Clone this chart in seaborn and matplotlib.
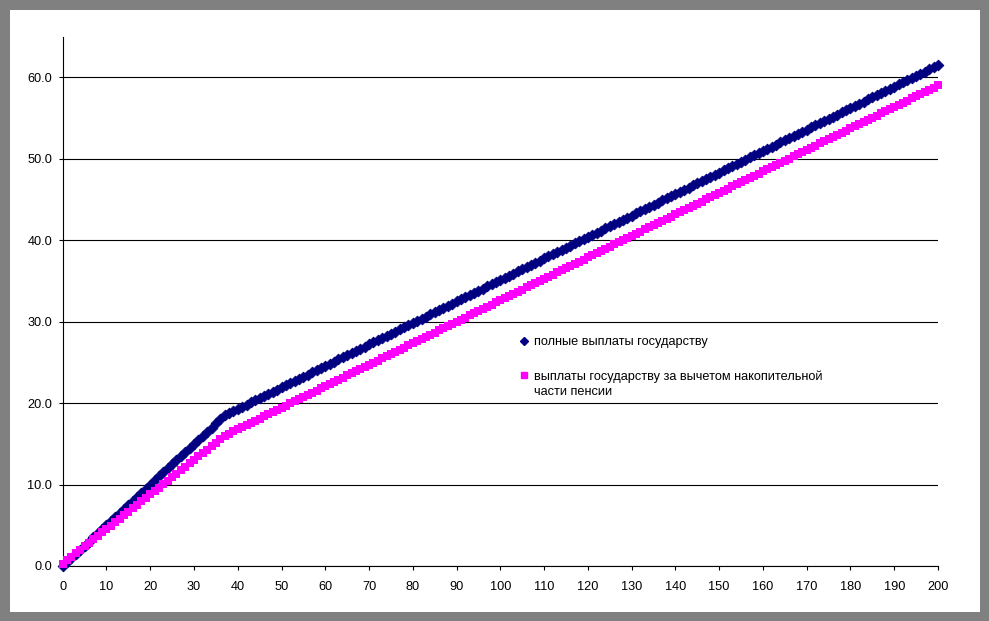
import numpy as np
import pandas as pd
import matplotlib
matplotlib.use('Agg')
import matplotlib.pyplot as plt
from matplotlib.patches import Rectangle
from matplotlib.lines import Line2D
import seaborn as sns

sns.set_style('white')
plt.rcParams['font.family'] = ['Liberation Sans', 'DejaVu Sans']
plt.rcParams['text.color'] = 'black'
plt.rcParams['xtick.color'] = 'black'
plt.rcParams['ytick.color'] = 'black'

# x categories 0..200
periods = list(range(0, 201))

full_payments = [
    0.00, 0.50, 1.00, 1.50, 2.00, 2.50, 3.00, 3.50, 4.00, 4.50,
    5.00, 5.50, 6.00, 6.50, 7.00, 7.50, 8.00, 8.50, 9.00, 9.50,
    10.00, 10.50, 11.00, 11.50, 12.00, 12.50, 13.00, 13.50, 14.00, 14.50,
    15.00, 15.50, 16.00, 16.50, 17.00, 17.50, 18.00, 18.50, 18.76, 19.03,
    19.29, 19.56, 19.82, 20.08, 20.35, 20.61, 20.87, 21.14, 21.40, 21.67,
    21.93, 22.19, 22.46, 22.72, 22.98, 23.25, 23.51, 23.78, 24.04, 24.30,
    24.57, 24.83, 25.10, 25.36, 25.62, 25.89, 26.15, 26.41, 26.68, 26.94,
    27.21, 27.47, 27.73, 28.00, 28.26, 28.52, 28.79, 29.05, 29.32, 29.58,
    29.84, 30.11, 30.37, 30.63, 30.90, 31.16, 31.43, 31.69, 31.95, 32.22,
    32.48, 32.75, 33.01, 33.27, 33.54, 33.80, 34.06, 34.33, 34.59, 34.86,
    35.12, 35.38, 35.65, 35.91, 36.17, 36.44, 36.70, 36.97, 37.23, 37.49,
    37.76, 38.02, 38.29, 38.55, 38.81, 39.08, 39.34, 39.60, 39.87, 40.13,
    40.40, 40.66, 40.92, 41.19, 41.45, 41.71, 41.98, 42.24, 42.51, 42.77,
    43.03, 43.30, 43.56, 43.83, 44.09, 44.35, 44.62, 44.88, 45.14, 45.41,
    45.67, 45.94, 46.20, 46.46, 46.73, 46.99, 47.25, 47.52, 47.78, 48.05,
    48.31, 48.57, 48.84, 49.10, 49.37, 49.63, 49.89, 50.16, 50.42, 50.68,
    50.95, 51.21, 51.48, 51.74, 52.00, 52.27, 52.53, 52.79, 53.06, 53.32,
    53.59, 53.85, 54.11, 54.38, 54.64, 54.90, 55.17, 55.43, 55.70, 55.96,
    56.22, 56.49, 56.75, 57.02, 57.28, 57.54, 57.81, 58.07, 58.33, 58.60,
    58.86, 59.13, 59.39, 59.65, 59.92, 60.18, 60.44, 60.71, 60.97, 61.24,
    61.50,
]

net_payments = [
    0.30, 0.72, 1.15, 1.57, 2.00, 2.42, 2.85, 3.27, 3.69, 4.12,
    4.54, 4.97, 5.39, 5.82, 6.24, 6.66, 7.09, 7.51, 7.94, 8.36,
    8.79, 9.21, 9.63, 10.06, 10.48, 10.91, 11.33, 11.76, 12.18, 12.60,
    13.03, 13.45, 13.88, 14.30, 14.73, 15.15, 15.57, 16.00, 16.26, 16.53,
    16.79, 17.06, 17.32, 17.58, 17.85, 18.11, 18.37, 18.64, 18.90, 19.17,
    19.43, 19.69, 19.96, 20.22, 20.48, 20.75, 21.01, 21.28, 21.54, 21.80,
    22.07, 22.33, 22.60, 22.86, 23.12, 23.39, 23.65, 23.91, 24.18, 24.44,
    24.71, 24.97, 25.23, 25.50, 25.76, 26.02, 26.29, 26.55, 26.82, 27.08,
    27.34, 27.61, 27.87, 28.13, 28.40, 28.66, 28.93, 29.19, 29.45, 29.72,
    29.98, 30.25, 30.51, 30.77, 31.04, 31.30, 31.56, 31.83, 32.09, 32.36,
    32.62, 32.88, 33.15, 33.41, 33.67, 33.94, 34.20, 34.47, 34.73, 34.99,
    35.26, 35.52, 35.79, 36.05, 36.31, 36.58, 36.84, 37.10, 37.37, 37.63,
    37.90, 38.16, 38.42, 38.69, 38.95, 39.21, 39.48, 39.74, 40.01, 40.27,
    40.53, 40.80, 41.06, 41.33, 41.59, 41.85, 42.12, 42.38, 42.64, 42.91,
    43.17, 43.44, 43.70, 43.96, 44.23, 44.49, 44.75, 45.02, 45.28, 45.55,
    45.81, 46.07, 46.34, 46.60, 46.87, 47.13, 47.39, 47.66, 47.92, 48.18,
    48.45, 48.71, 48.98, 49.24, 49.50, 49.77, 50.03, 50.29, 50.56, 50.82,
    51.09, 51.35, 51.61, 51.88, 52.14, 52.40, 52.67, 52.93, 53.20, 53.46,
    53.72, 53.99, 54.25, 54.52, 54.78, 55.04, 55.31, 55.57, 55.83, 56.10,
    56.36, 56.63, 56.89, 57.15, 57.42, 57.68, 57.94, 58.21, 58.47, 58.74,
    59.00,
]

label_full = 'полные выплаты государству'
label_net = 'выплаты государству за вычетом накопительной\nчасти пенсии'
y_ticks = [0, 10, 20, 30, 40, 50, 60]
x_ticks = list(range(0, 201, 10))

df = pd.DataFrame({'x': periods, 'full': full_payments, 'net': net_payments})

W, H = 989, 621
fig = plt.figure(figsize=(W / 100, H / 100), dpi=100, facecolor='#808080')
fig.patches.append(Rectangle((10 / W, 9 / H), 970 / W, 602 / H,
                             transform=fig.transFigure, facecolor='white',
                             edgecolor='none', zorder=-10))

ax = fig.add_axes([62.7 / W, 55 / H, (938 - 62.7) / W, (566 - 36.6) / H])
ax.set_facecolor('white')

sns.scatterplot(data=df, x='x', y='full', ax=ax, marker='D', s=30,
                color='#000080', edgecolor='#000080', linewidth=0.6,
                clip_on=False, zorder=3)
sns.scatterplot(data=df, x='x', y='net', ax=ax, marker='s', s=34,
                color='#FF00FF', edgecolor='#FF00FF', linewidth=0,
                clip_on=False, zorder=4)

ax.set_xlim(0, 200)
ax.set_ylim(0, 65)
ax.set_xticks(x_ticks)
ax.set_yticks(y_ticks)
ax.set_yticklabels(['{:.1f}'.format(v) for v in y_ticks])
ax.set_xlabel('')
ax.set_ylabel('')
ax.tick_params(axis='both', which='major', labelsize=9.2, direction='out',
               length=3, width=0.8, color='black', bottom=True, left=True)
ax.tick_params(axis='x', pad=7.5)
ax.tick_params(axis='y', pad=4.5)
ax.yaxis.grid(True, color='black', linewidth=0.8)
ax.xaxis.grid(False)
ax.set_axisbelow(True)
for side in ['top', 'right']:
    ax.spines[side].set_visible(False)
for side in ['left', 'bottom']:
    ax.spines[side].set_color('black')
    ax.spines[side].set_linewidth(0.8)

handles = [
    Line2D([], [], linestyle='', marker='D', markersize=4.5,
           color='#000080'),
    Line2D([], [], linestyle='', marker='s', markersize=5,
           color='#FF00FF'),
]
leg = fig.legend(handles, [label_full, label_net], loc='upper left',
                 bbox_to_anchor=(519 / W, 1 - 336 / H), frameon=False,
                 fontsize=9.2, handlelength=0.8, handletextpad=0.35,
                 labelspacing=1.75, borderpad=0, borderaxespad=0)
for t in leg.get_texts():
    t.set_linespacing(1.3)
# keep the marker next to the first line of the wrapped label
h2 = leg.legend_handles[1]
h2.set_ydata([y + 6.8 for y in h2.get_ydata()])

fig.savefig('out.png', dpi=100, facecolor=fig.get_facecolor())
